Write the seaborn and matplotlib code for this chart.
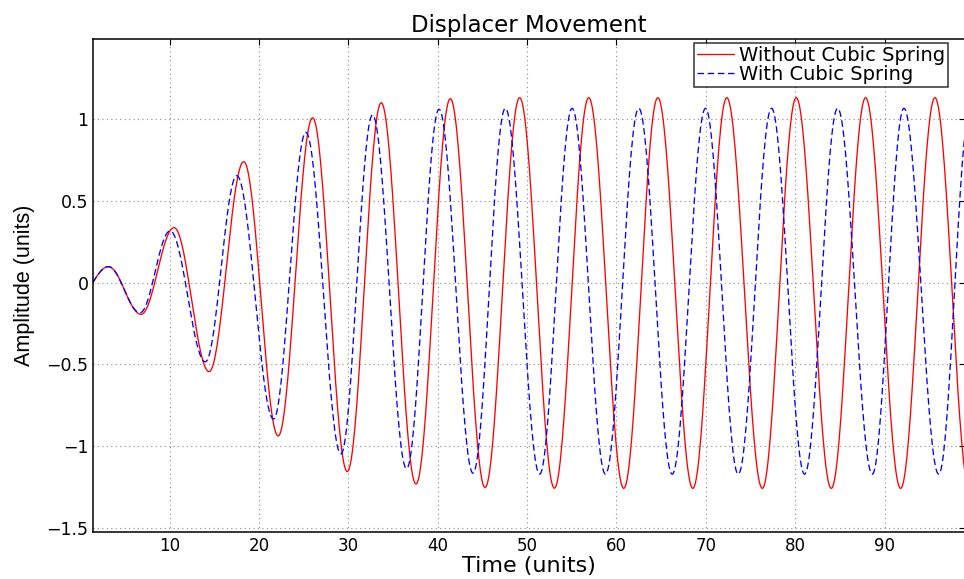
import numpy as np
import pandas as pd
import matplotlib
matplotlib.use("Agg")
import matplotlib.pyplot as plt
import seaborn as sns

# ---- data (extrema of each trace) ----
t_start = 1.4
red_t = [3.15, 6.81, 10.5, 14.42, 18.3, 22.15, 26.0, 29.88, 33.68, 37.57, 41.41, 45.3,
         49.17, 53.06, 56.9, 60.82, 64.63, 68.55, 72.35, 76.32, 80.12, 84.04, 87.88,
         91.8, 95.64, 99.5]
red_v = [0.098, -0.194, 0.337, -0.545, 0.741, -0.939, 1.01, -1.157, 1.102, -1.233, 1.127,
         -1.255, 1.133, -1.259, 1.133, -1.26, 1.133, -1.26, 1.133, -1.26, 1.133, -1.26,
         1.133, -1.26, 1.133, -1.26]
blue_t = [3.15, 6.70, 10.06, 14.0, 17.52, 21.63, 25.25, 29.17, 32.71, 36.52, 40.15, 43.95,
          47.57, 51.41, 55.04, 58.77, 62.5, 66.24, 69.97, 73.63, 77.36, 81.05, 84.75,
          88.63, 92.17, 96.06, 99.6]
blue_v = [0.098, -0.184, 0.317, -0.485, 0.655, -0.835, 0.921, -1.049, 1.027, -1.139, 1.062,
          -1.167, 1.068, -1.173, 1.068, -1.173, 1.068, -1.173, 1.068, -1.173, 1.068, -1.173,
          1.068, -1.173, 1.068, -1.173, 1.068]
labels = ["Without Cubic Spring", "With Cubic Spring"]
x_ticks = [10, 20, 30, 40, 50, 60, 70, 80, 90]
y_ticks = [-1.5, -1, -0.5, 0, 0.5, 1]
y_ticklabels = ["\u22121.5", "\u22121", "\u22120.5", "0", "0.5", "1"]


def trace(tex, vex, t0, n=40):
    """Draw a smooth oscillation through the read extrema (cosine-shaped swings)."""
    ts, ys = [], []
    s = np.linspace(0, 1, n)
    ts.append(t0 + (tex[0] - t0) * s)
    ys.append(vex[0] * np.sin(np.pi / 2 * s))
    for i in range(len(tex) - 1):
        a, b = vex[i], vex[i + 1]
        ts.append(tex[i] + (tex[i + 1] - tex[i]) * s[1:])
        ys.append((a + b) / 2 + (a - b) / 2 * np.cos(np.pi * s[1:]))
    return np.concatenate(ts), np.concatenate(ys)


tr, yr = trace(red_t, red_v, t_start)
tb, yb = trace(blue_t, blue_v, t_start)
df = pd.concat([
    pd.DataFrame({"t": tr, "y": yr, "series": labels[0]}),
    pd.DataFrame({"t": tb, "y": yb, "series": labels[1]}),
])

sns.set_style("white")
plt.rcParams["font.family"] = ["DejaVu Sans"]
plt.rcParams["text.color"] = "black"
plt.rcParams["axes.labelcolor"] = "black"
plt.rcParams["xtick.color"] = "black"
plt.rcParams["ytick.color"] = "black"

fig = plt.figure(figsize=(9.64, 5.79), dpi=100)
ax = fig.add_axes([0.0962, 0.0817, 0.9038 + 0.001, 0.8515])

sns.lineplot(data=df, x="t", y="y", hue="series", style="series",
             palette={labels[0]: "#ff0000", labels[1]: "#0000ff"},
             dashes={labels[0]: "", labels[1]: (5, 2.7)},
             linewidth=0.95, sort=False, estimator=None, ax=ax)

ax.set_xlim(t_start, 99.0)
ax.set_ylim(-1.525, 1.494)
ax.set_xticks(x_ticks)
ax.set_yticks(y_ticks)
ax.set_yticklabels(y_ticklabels)
ax.grid(True, color="0.55", linestyle=(0, (1, 3)), linewidth=0.8)
ax.tick_params(direction="in", length=4, width=0.8, top=True, right=True,
               labelsize=12.5, colors="black")
ax.tick_params(axis="x", pad=3.5, labelsize=12)
ax.tick_params(axis="y", pad=3)
for sp in ax.spines.values():
    sp.set_color("black")
    sp.set_linewidth(1.1)

ax.set_title("Displacer Movement", fontsize=16.5, pad=5, color="black")
ax.set_xlabel("Time (units)", fontsize=16, labelpad=1.0, color="black")
ax.set_ylabel("Amplitude (units)", fontsize=15.5, labelpad=8, color="black",
              family=["Liberation Sans", "DejaVu Sans"])

leg = ax.legend(loc="upper left", bbox_to_anchor=(0.6898, 0.9913), borderaxespad=0,
                fontsize=14, frameon=True, fancybox=False, edgecolor="black",
                handlelength=1.9, handletextpad=0.25, labelspacing=0.0,
                borderpad=0.15, title=None)
leg.get_frame().set_linewidth(1.1)
for txt in leg.get_texts():
    txt.set_color("black")

fig.savefig("out.png", dpi=100)
